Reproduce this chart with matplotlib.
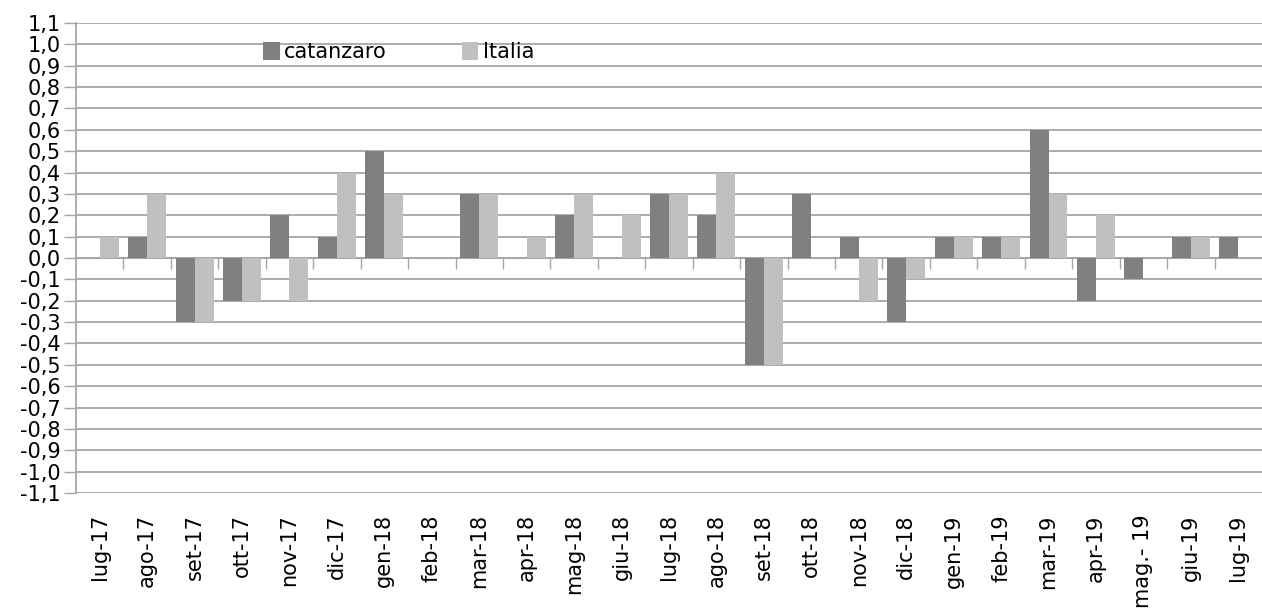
import numpy as np
import matplotlib
matplotlib.use("Agg")
import matplotlib.pyplot as plt
import matplotlib.transforms as mtransforms

plt.rcParams['font.family'] = ['Liberation Sans Narrow', 'DejaVu Sans']

# categories and values
mesi = ['lug-17', 'ago-17', 'set-17', 'ott-17', 'nov-17', 'dic-17', 'gen-18', 'feb-18',
        'mar-18', 'apr-18', 'mag-18', 'giu-18', 'lug-18', 'ago-18', 'set-18', 'ott-18',
        'nov-18', 'dic-18', 'gen-19', 'feb-19', 'mar-19', 'apr-19', 'mag.- 19', 'giu-19', 'lug-19']
catanzaro = [0.0, 0.1, -0.3, -0.2, 0.2, 0.1, 0.5, 0.0, 0.3, 0.0, 0.2, 0.0, 0.3, 0.2,
             -0.5, 0.3, 0.1, -0.3, 0.1, 0.1, 0.6, -0.2, -0.1, 0.1, 0.1]
italia = [0.1, 0.3, -0.3, -0.2, -0.2, 0.4, 0.3, 0.0, 0.3, 0.1, 0.3, 0.2, 0.3, 0.4,
          -0.5, 0.0, -0.2, -0.1, 0.1, 0.1, 0.3, 0.2, 0.0, 0.1, 0.0]
y_ticks = np.round(np.arange(-1.1, 1.11, 0.1), 1)

grid_col = '#a6a6a6'

fig = plt.figure(figsize=(12.62, 6.14), dpi=100)
ax = fig.add_axes([0.0602, 0.197, 0.9398, 0.7655])

x = np.arange(len(mesi))
w = 0.4
ax.bar(x - w / 2, catanzaro, w, color='#808080', label='catanzaro', zorder=3)
ax.bar(x + w / 2, italia, w, color='#c0c0c0', label='Italia', zorder=3)

ax.set_xlim(-0.5, len(mesi) - 0.5)
ax.set_ylim(-1.1, 1.1)
ax.set_yticks(y_ticks)
ax.set_yticklabels([('%.1f' % v).replace('.', ',') for v in y_ticks], fontsize=15)
ax.yaxis.grid(True, color=grid_col, linewidth=1.3, zorder=0)
ax.tick_params(axis='y', length=9, width=1, color=grid_col, pad=2)

# category axis sits on the zero line, ticks between categories
for s in ['top', 'right']:
    ax.spines[s].set_visible(False)
ax.spines['bottom'].set_position(('data', 0))
ax.spines['bottom'].set_color(grid_col)
ax.spines['bottom'].set_linewidth(1.3)
ax.spines['left'].set_color(grid_col)
ax.spines['left'].set_linewidth(1.3)
ax.set_xticks(x[:-1] + 0.5)
ax.set_xticklabels([])
ax.tick_params(axis='x', direction='out', length=8, width=1, color=grid_col)

trans = mtransforms.blended_transform_factory(ax.transData, ax.transAxes)
for xi, lab in zip(x, mesi):
    ax.text(xi, -0.045, lab, transform=trans, rotation=90, ha='center', va='top', fontsize=15)

ax.legend(loc='upper center', bbox_to_anchor=(0.272, 1.0), ncol=2, frameon=False,
          fontsize=15, handlelength=0.8, handleheight=1.0, handletextpad=0.2,
          columnspacing=3.6)

fig.savefig('out.png', dpi=100)
